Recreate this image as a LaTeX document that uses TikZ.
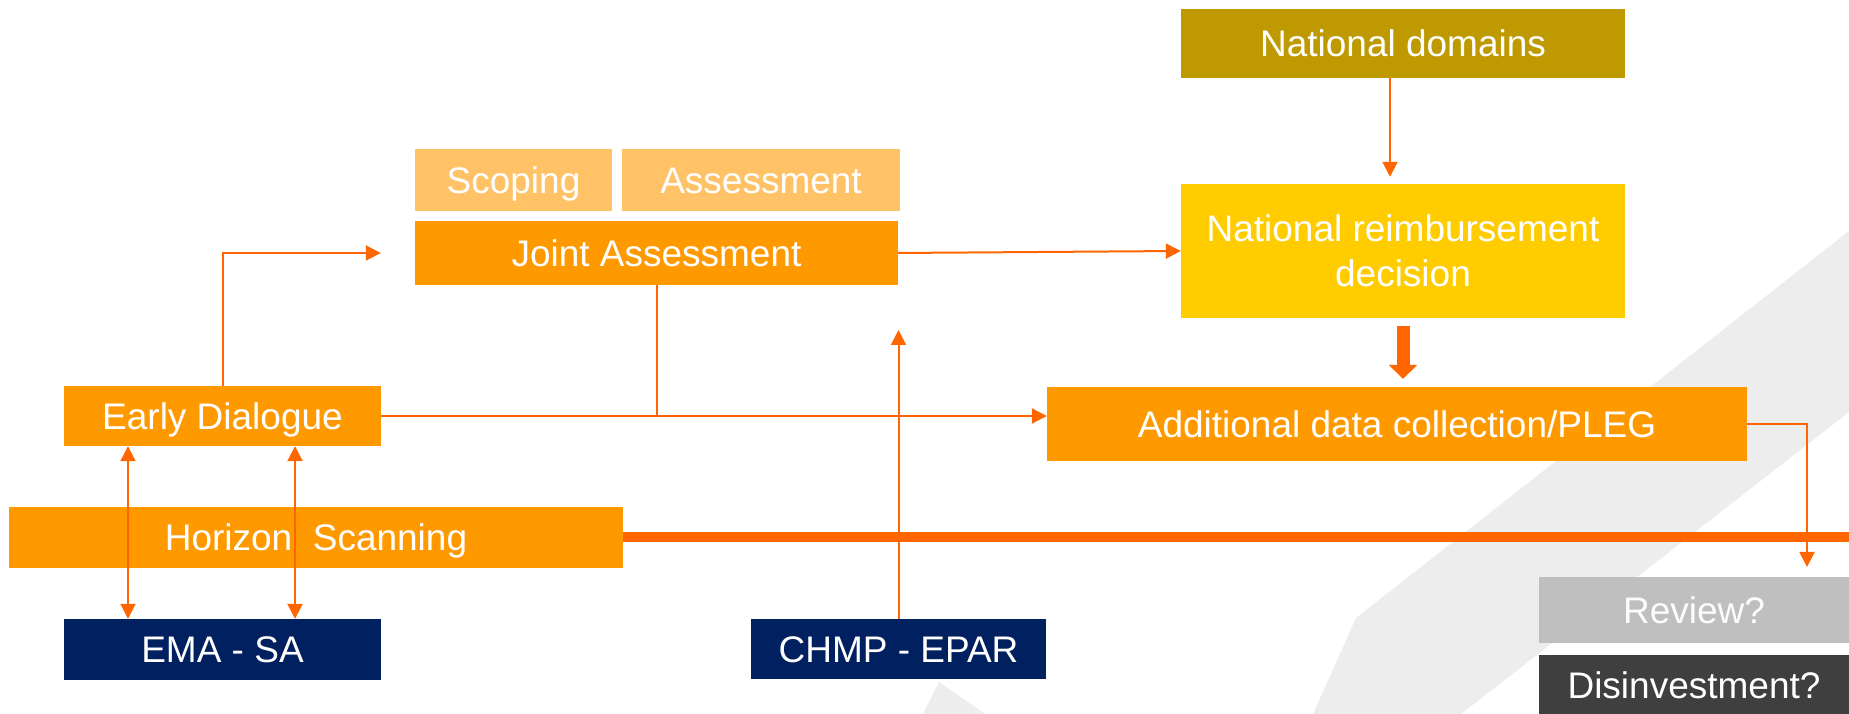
\documentclass[tikz,border=0pt]{standalone}
\usepackage{fontspec}
\setmainfont{Liberation Sans}
\usetikzlibrary{arrows.meta}

\definecolor{htaorange}{HTML}{FF9900}
\definecolor{htalight}{HTML}{FFC266}
\definecolor{htaline}{HTML}{FF6600}
\definecolor{htanavy}{HTML}{002060}
\definecolor{htagold}{HTML}{BF9900}
\definecolor{htayellow}{HTML}{FFCC00}
\definecolor{htagrey}{HTML}{BFBFBF}
\definecolor{htadark}{HTML}{3F3F3F}
\definecolor{htaband}{HTML}{EDEDED}

\begin{document}
\begin{tikzpicture}[x=1pt,y=1pt,>={Triangle[length=15pt,width=15pt]},
  box/.style={inner sep=0pt, text=white, align=center,
    font=\fontsize{37}{45}\selectfont, text height=26.5pt, text depth=0pt},
  wire/.style={draw=htaline, line width=2pt},
  link/.style={wire, ->}]

  \useasboundingbox (0,0) rectangle (1849,714);
  \fill[white] (0,0) rectangle (1849,714);

%%%%%%%%%%%%%%%%%%%%%%%%%%%%%%%%%%%%%%%%%%
  % Background bands
  \fill[htaband] (1313,0) -- (1356,96) -- (1849,483) -- (1849,302) -- (1461,0) -- cycle;
  \fill[htaband] (923,0) -- (939,32) -- (985,0) -- cycle;

  % Boxes
  \node[box, fill=htagold, minimum width=444pt, minimum height=69pt] (natdom) at (1403,670.5) {National domains};
  \node[box, fill=htayellow, minimum width=444pt, minimum height=134pt, text height=71.5pt] (natreimb) at (1403,463) {National reimbursement\\decision};
  \node[box, fill=htaorange, minimum width=700pt, minimum height=74pt] (datacoll) at (1397,290) {Additional data collection/PLEG};
  \node[box, fill=htagrey, text=white!95!htagrey, minimum width=310pt, minimum height=66pt] (review) at (1694,104) {Review?};
  \node[box, fill=htadark, minimum width=310pt, minimum height=61pt] (disinv) at (1694,28.5) {Disinvestment?};

  \node[box, fill=htalight, minimum width=197pt, minimum height=62pt] (scoping) at (513.5,534) {Scoping};
  \node[box, fill=htalight, minimum width=278pt, minimum height=62pt] (assess) at (761,534) {Assessment};
  \node[box, fill=htaorange, minimum width=483pt, minimum height=64pt] (joint) at (656.5,461) {Joint Assessment};

  \node[box, fill=htaorange, minimum width=317pt, minimum height=60pt] (early) at (222.5,298) {Early Dialogue};
  \node[box, fill=htaorange, minimum width=614pt, minimum height=61pt] (horizon) at (316,176.5) {Horizon\ \ Scanning};
  \node[box, fill=htanavy, minimum width=317pt, minimum height=61pt] (emasa) at (222.5,64.5) {EMA - SA};
  \node[box, fill=htanavy, minimum width=295pt, minimum height=60pt] (chmp) at (898.5,65) {CHMP - EPAR};

  % Free arrow ends
  \coordinate (earlytip) at ([xshift=-34pt]joint.west);
  \coordinate (chmptip) at (898.5,384);
  \coordinate (reviewtip) at (1807,147);

  % Time line
  \draw[htaline, line width=10pt] (horizon.east) -- (1849,176.5);

  % Connectors
  \draw[link] (early.north) |- (earlytip);
  \draw[link] (joint.east) -- (natreimb.west);
  \draw[wire] (joint.south) -- (joint.south |- early.east);
  \draw[link] (early.east) -- (early.east -| datacoll.west);
  \draw[link] (chmp.north) -- (chmptip);
  \draw[link, shorten >=7pt] ([xshift=-13pt]natdom.south) -- ([xshift=-13pt]natreimb.north);
  \draw[htaline, line width=13pt, -{Triangle[width=28pt,length=14pt]}, shorten <=8pt, shorten >=8pt]
    (natreimb.south) -- (natreimb.south |- datacoll.north);
  \draw[link] (datacoll.east) -| (reviewtip);
  \draw[wire, <->] ([xshift=-94.5pt]emasa.north) -- ([xshift=-94.5pt]early.south);
  \draw[wire, <->] ([xshift=72.5pt]emasa.north) -- ([xshift=72.5pt]early.south);

\end{tikzpicture}
\end{document}
